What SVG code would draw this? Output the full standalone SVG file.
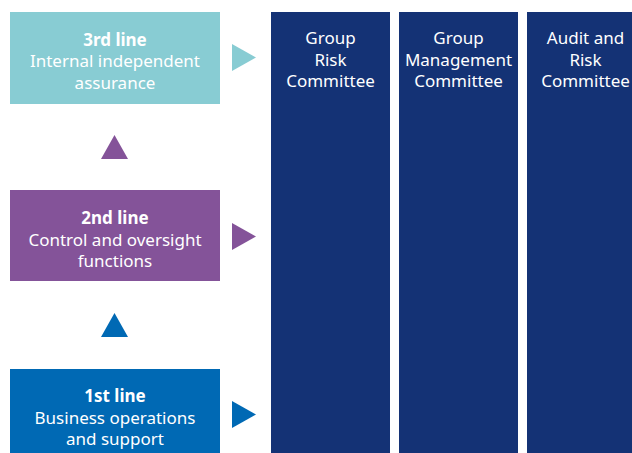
<svg xmlns="http://www.w3.org/2000/svg" width="632" height="453" viewBox="0 0 632 453">
<style>
text{font-family:"Noto Sans","Open Sans","Liberation Sans",sans-serif;font-size:17px;fill:#fff;text-anchor:middle}
.b{font-weight:bold}
.col{fill:#143275}
</style>
<rect width="632" height="453" fill="#fff"/>
<g id="committees">
<g id="grc"><rect class="col" x="271" y="12" width="119" height="441"/>
<text x="330.5" y="44">Group</text><text x="330.5" y="66">Risk</text><text x="330.5" y="87">Committee</text></g>
<g id="gmc"><rect class="col" x="399" y="12" width="119" height="441"/>
<text x="458.5" y="44">Group</text><text x="458.5" y="66">Management</text><text x="458.5" y="87">Committee</text></g>
<g id="arc"><rect class="col" x="527" y="12" width="119" height="441"/>
<text x="585.5" y="44">Audit and</text><text x="585.5" y="66">Risk</text><text x="585.5" y="87">Committee</text></g>
</g>
<g id="line3"><rect x="10" y="12" width="210" height="92" fill="#88CCD3"/>
<text class="b" x="115" y="46">3rd line</text><text x="115" y="67">Internal independent</text><text x="115" y="89">assurance</text></g>
<g id="line2"><rect x="10" y="190" width="210" height="91" fill="#845399"/>
<text class="b" x="115" y="224">2nd line</text><text x="115" y="246">Control and oversight</text><text x="115" y="267">functions</text></g>
<g id="line1"><rect x="10" y="369" width="210" height="84" fill="#0069B4"/>
<text class="b" x="115" y="402">1st line</text><text x="115" y="424">Business operations</text><text x="115" y="445">and support</text></g>
<g id="connectors">
<polygon points="232,44 256,57.5 232,71" fill="#88CCD3"/>
<polygon points="232,223 256,236.5 232,250" fill="#845399"/>
<polygon points="232,401 256,414.5 232,428" fill="#0069B4"/>
<polygon points="101,159 114.5,135 128,159" fill="#845399"/>
<polygon points="101,337 114.5,313 128,337" fill="#0069B4"/>
</g>
</svg>
